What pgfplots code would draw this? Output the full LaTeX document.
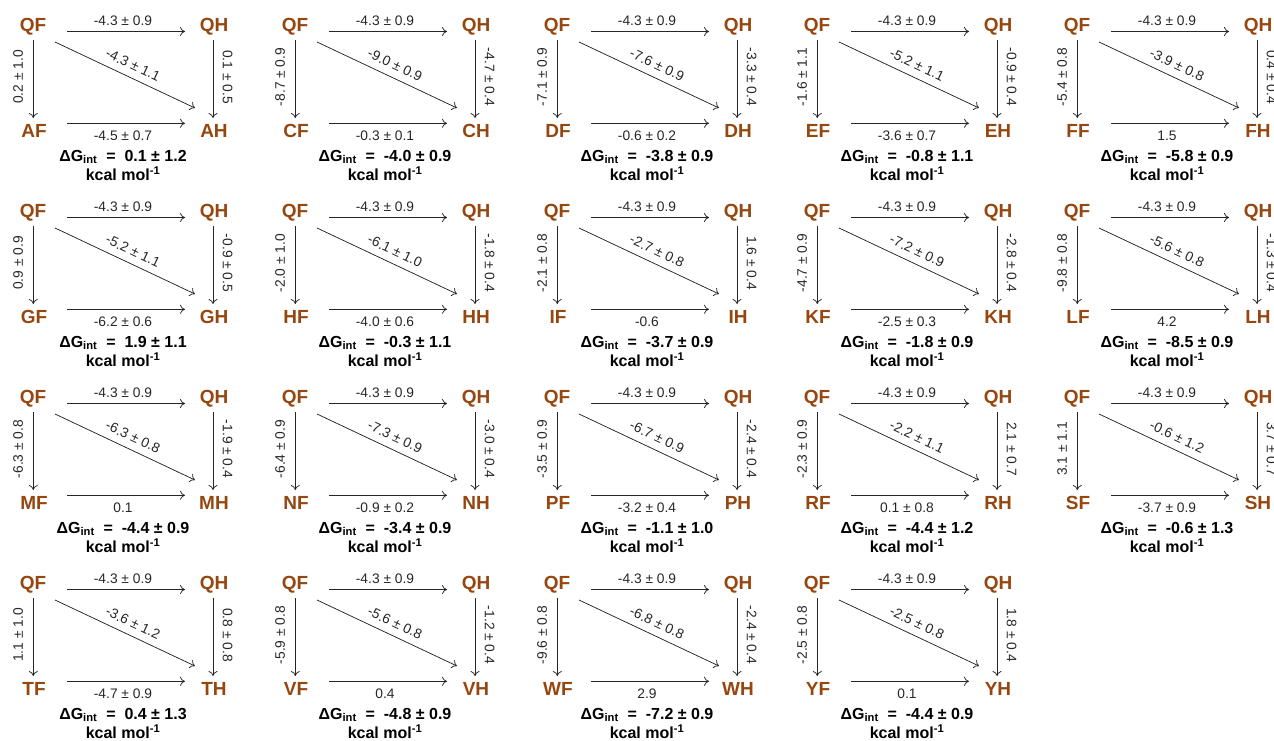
\documentclass[border=0pt]{standalone}
\usepackage{pgfplots}
\pgfplotsset{compat=1.18}
\usepackage{fontspec}
\setmainfont{Liberation Sans}
\usetikzlibrary{arrows.meta}
\definecolor{qbrown}{RGB}{150,70,15}
\pgfplotsset{
  panel/.style={hide axis, scale only axis, width=261pt, height=183pt,
    xmin=0, xmax=261, ymin=0, ymax=183, y dir=reverse,
    anchor=north west, clip=true},
  lastcol/.style={width=230pt, xmax=230},
  arr/.style={-{To[length=5pt,width=9pt]}, line width=0.75pt, black!85, mark=none},
}
\tikzset{
  lab/.style={font=\fontsize{19}{21}\selectfont\bfseries, text=qbrown, inner sep=0pt},
  num/.style={font=\fontsize{13.8}{15}\selectfont, text=black!85, inner sep=0pt},
  dg/.style={font=\fontsize{16}{18}\selectfont\bfseries, inner sep=0pt},
}
% #1 left, #2 top, #3 letter, #4 left value, #5 diagonal, #6 right, #7 bottom, #8 dG_int, #9 extra axis options
\newcommand{\panel}[9]{%
\begin{axis}[panel, at={(#1pt,-#2pt)}, #9]
\addplot[arr] coordinates {(67,31.5) (185,31.5)};
\addplot[arr] coordinates {(67,123.3) (185,123.3)};
\addplot[arr] coordinates {(33.3,40) (33.3,118)};
\addplot[arr] coordinates {(213,40) (213,118)};
\addplot[arr] coordinates {(55,42) (195,108)};
\node[lab] at (axis cs:33,27) {QF};
\node[lab] at (axis cs:214,27) {QH};
\node[lab] at (axis cs:34,131) {#3F};
\node[lab] at (axis cs:214,131) {#3H};
\node[num] at (axis cs:123,21) {-4.3 ± 0.9};
\node[num] at (axis cs:123,136) {#7};
\node[num,rotate=90] at (axis cs:18,77) {#4};
\node[num,rotate=-90] at (axis cs:227.5,77) {#6};
\node[num,rotate=-25.2] at (axis cs:133,65) {#5};
\node[dg] at (axis cs:123,157) {ΔG\textsubscript{int}\ \ =\ \ #8};
\node[dg] at (axis cs:123,174) {kcal mol\textsuperscript{-1}};
\end{axis}}
\begin{document}
\begin{tikzpicture}
\panel{0}{0}{A}{0.2 ± 1.0}{-4.3 ± 1.1}{0.1 ± 0.5}{-4.5 ± 0.7}{0.1 ± 1.2}{}
\panel{262}{0}{C}{-8.7 ± 0.9}{-9.0 ± 0.9}{-4.7 ± 0.4}{-0.3 ± 0.1}{-4.0 ± 0.9}{}
\panel{524}{0}{D}{-7.1 ± 0.9}{-7.6 ± 0.9}{-3.3 ± 0.4}{-0.6 ± 0.2}{-3.8 ± 0.9}{}
\panel{784}{0}{E}{-1.6 ± 1.1}{-5.2 ± 1.1}{-0.9 ± 0.4}{-3.6 ± 0.7}{-0.8 ± 1.1}{}
\panel{1044}{0}{F}{-5.4 ± 0.8}{-3.9 ± 0.8}{0.4 ± 0.4}{1.5}{-5.8 ± 0.9}{lastcol}
\panel{0}{186}{G}{0.9 ± 0.9}{-5.2 ± 1.1}{-0.9 ± 0.5}{-6.2 ± 0.6}{1.9 ± 1.1}{}
\panel{262}{186}{H}{-2.0 ± 1.0}{-6.1 ± 1.0}{-1.8 ± 0.4}{-4.0 ± 0.6}{-0.3 ± 1.1}{}
\panel{524}{186}{I}{-2.1 ± 0.8}{-2.7 ± 0.8}{1.6 ± 0.4}{-0.6}{-3.7 ± 0.9}{}
\panel{784}{186}{K}{-4.7 ± 0.9}{-7.2 ± 0.9}{-2.8 ± 0.4}{-2.5 ± 0.3}{-1.8 ± 0.9}{}
\panel{1044}{186}{L}{-9.8 ± 0.8}{-5.6 ± 0.8}{-1.3 ± 0.4}{4.2}{-8.5 ± 0.9}{lastcol}
\panel{0}{372}{M}{-6.3 ± 0.8}{-6.3 ± 0.8}{-1.9 ± 0.4}{0.1}{-4.4 ± 0.9}{}
\panel{262}{372}{N}{-6.4 ± 0.9}{-7.3 ± 0.9}{-3.0 ± 0.4}{-0.9 ± 0.2}{-3.4 ± 0.9}{}
\panel{524}{372}{P}{-3.5 ± 0.9}{-6.7 ± 0.9}{-2.4 ± 0.4}{-3.2 ± 0.4}{-1.1 ± 1.0}{}
\panel{784}{372}{R}{-2.3 ± 0.9}{-2.2 ± 1.1}{2.1 ± 0.7}{0.1 ± 0.8}{-4.4 ± 1.2}{}
\panel{1044}{372}{S}{3.1 ± 1.1}{-0.6 ± 1.2}{3.7 ± 0.7}{-3.7 ± 0.9}{-0.6 ± 1.3}{lastcol}
\panel{0}{558}{T}{1.1 ± 1.0}{-3.6 ± 1.2}{0.8 ± 0.8}{-4.7 ± 0.9}{0.4 ± 1.3}{}
\panel{262}{558}{V}{-5.9 ± 0.8}{-5.6 ± 0.8}{-1.2 ± 0.4}{0.4}{-4.8 ± 0.9}{}
\panel{524}{558}{W}{-9.6 ± 0.8}{-6.8 ± 0.8}{-2.4 ± 0.4}{2.9}{-7.2 ± 0.9}{}
\panel{784}{558}{Y}{-2.5 ± 0.8}{-2.5 ± 0.8}{1.8 ± 0.4}{0.1}{-4.4 ± 0.9}{}
\pgfresetboundingbox
\path[use as bounding box] (0,0) rectangle (1274pt,-741pt);
\end{tikzpicture}
\end{document}
